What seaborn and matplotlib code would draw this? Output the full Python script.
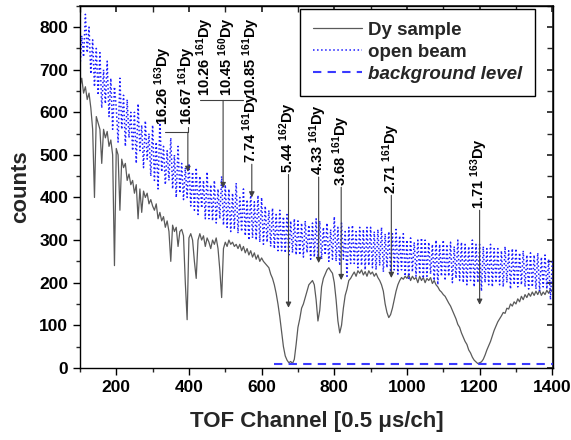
import numpy as np
import matplotlib
matplotlib.use("Agg")
import matplotlib.pyplot as plt
import seaborn as sns

# --- data (one value every 5 channels, 100..1400) ---
# open beam counts, 10 values per 50-channel block
open_beam = [
    700, 780, 730, 830, 740, 800, 690, 770, 660, 750,   # 100
    640, 740, 610, 700, 620, 720, 590, 680, 560, 660,   # 150
    610, 530, 680, 560, 640, 520, 630, 540, 600, 510,   # 200
    600, 480, 620, 510, 570, 470, 580, 490, 550, 450,   # 250
    570, 440, 530, 420, 580, 460, 520, 430, 510, 440,   # 300
    540, 420, 500, 400, 520, 410, 480, 395, 470, 400,   # 350
    480, 380, 460, 370, 470, 360, 450, 375, 440, 350,   # 400
    460, 350, 430, 345, 440, 340, 420, 350, 450, 335,   # 450
    430, 330, 420, 320, 410, 325, 434, 316, 400, 320,   # 500
    420, 310, 395, 300, 410, 305, 390, 300, 405, 295,   # 550
    400, 290, 380, 295, 370, 285, 375, 280, 360, 275,   # 600
    370, 275, 355, 270, 360, 265, 345, 270, 350, 265,   # 650
    345, 265, 340, 260, 345, 270, 335, 255, 340, 260,   # 700
    350, 260, 345, 255, 330, 265, 340, 250, 325, 255,   # 750
    355, 250, 330, 240, 340, 255, 320, 215, 330, 245,   # 800
    335, 245, 320, 235, 330, 240, 325, 230, 330, 240,   # 850
    330, 235, 320, 230, 325, 240, 330, 225, 315, 235,   # 900
    320, 225, 315, 230, 325, 220, 310, 230, 315, 215,   # 950
    300, 210, 305, 225, 295, 215, 300, 220, 305, 210,   # 1000
    300, 215, 295, 220, 290, 205, 300, 195, 290, 215,   # 1050
    300, 205, 290, 215, 295, 200, 285, 210, 300, 205,   # 1100
    295, 200, 290, 195, 285, 205, 300, 190, 290, 200,   # 1150
    290, 180, 285, 200, 280, 195, 290, 190, 280, 200,   # 1200
    280, 195, 275, 190, 285, 200, 275, 185, 280, 195,   # 1250
    280, 190, 270, 195, 275, 190, 265, 185, 270, 190,   # 1300
    265, 185, 270, 180, 260, 190, 265, 185, 255, 160, 250,  # 1350..1400
]

# Dy sample counts, same channels
dy_sample = [
    660, 680, 645, 660, 630, 645, 610, 560, 400, 590,   # 100
    575, 560, 480, 560, 540, 555, 520, 535, 500, 240,   # 150
    515, 500, 370, 490, 470, 480, 440, 455, 430, 440,   # 200
    410, 430, 350, 420, 365, 415, 400, 410, 385, 395,   # 250
    380, 370, 385, 350, 365, 345, 355, 330, 345, 320,   # 300
    250, 335, 320, 330, 285, 320, 325, 310, 200, 113,   # 350
    305, 315, 300, 250, 210, 300, 315, 300, 310, 285,   # 400
    305, 295, 280, 300, 290, 305, 280, 230, 165, 280,   # 450
    295, 285, 300, 290, 295, 285, 290, 280, 290, 275,   # 500
    285, 270, 280, 265, 275, 260, 270, 255, 265, 250,   # 550
    258, 250, 245, 240, 235, 220, 210, 195, 175, 150,   # 600
    120, 85, 50, 28, 18, 12, 15, 10, 20, 55,            # 650
    95, 115, 140, 150, 165, 180, 195, 200, 205, 195,    # 700
    160, 110, 135, 190, 210, 220, 230, 235, 228, 222,   # 750
    200, 160, 110, 82, 100, 140, 170, 185, 205, 210,    # 800
    218, 225, 215, 228, 222, 230, 218, 226, 215, 228,   # 850
    220, 225, 215, 222, 212, 205, 195, 180, 150, 130,   # 900
    118, 125, 140, 160, 180, 195, 205, 212, 208, 215,   # 950
    210, 218, 205, 215, 208, 212, 200, 215, 205, 212,   # 1000
    200, 210, 205, 212, 198, 205, 195, 190, 182, 178,   # 1050
    172, 168, 160, 152, 145, 135, 125, 115, 102, 95,    # 1100
    82, 72, 62, 55, 42, 35, 25, 18, 14, 10,             # 1150
    12, 14, 20, 30, 42, 52, 62, 75, 88, 98,             # 1200
    108, 115, 122, 130, 128, 140, 138, 150, 145, 155,   # 1250
    150, 162, 155, 168, 160, 172, 165, 175, 168, 178,   # 1300
    170, 180, 172, 182, 170, 178, 172, 182, 175, 185, 178,  # 1350..1400
]

channel = np.arange(100, 100 + 5 * len(open_beam), 5)
channel_dy = np.arange(100, 100 + 5 * len(dy_sample), 5)

background_x = [635, 1402]
background_y = [10, 10]

# resonance labels: (text, x, bottom of text, arrow tip)
single_labels = [
    ("5.44 $^{162}$Dy", 674, 458, 141),
    ("4.33 $^{161}$Dy", 757, 452, 246),
    ("3.68 $^{161}$Dy", 819, 428, 206),
    ("2.71 $^{161}$Dy", 957, 409, 211),
    ("1.71 $^{163}$Dy", 1200, 374, 148),
]

sns.set_theme(style="ticks")
plt.rcParams["font.family"] = ["Liberation Sans", "DejaVu Sans"]
plt.rcParams["mathtext.default"] = "regular"

fig = plt.figure(figsize=(5.71, 4.40), dpi=100)
ax = fig.add_axes([0.140, 0.164, 0.8285, 0.8228])

sns.lineplot(x=channel_dy, y=dy_sample, ax=ax, color="#5a5a5a", lw=0.9,
             label="Dy sample")
sns.lineplot(x=channel, y=open_beam, ax=ax, color="#1a1aff", lw=1.1,
             linestyle=":", label="open beam")
sns.lineplot(x=background_x, y=background_y, ax=ax, color="#3a3aff", lw=1.5,
             label="background level")
ax.lines[-1].set_dashes((4, 3))

ax.set_xlim(100, 1402)
ax.set_ylim(0, 850)
ax.set_xticks(range(200, 1401, 200))
ax.set_xticks(range(100, 1401, 100), minor=True)
ax.set_yticks(range(0, 801, 100))
ax.set_yticks(range(0, 851, 50), minor=True)
ax.tick_params(which="major", direction="out", length=5, width=1,
               labelsize=12.5, colors="black")
ax.tick_params(which="minor", direction="out", length=3, width=1)
for lab in ax.get_xticklabels() + ax.get_yticklabels():
    lab.set_fontweight("bold")

for sp in ax.spines.values():
    sp.set_visible(True)
    sp.set_color("black")
    sp.set_linewidth(1.0)

# inward ticks on top and right
top = ax.secondary_xaxis("top")
top.set_xticks(range(200, 1401, 200))
top.set_xticks(range(100, 1401, 100), minor=True)
top.tick_params(which="both", direction="in", length=4, labeltop=False)
right = ax.secondary_yaxis("right")
right.set_yticks(range(0, 801, 100))
right.set_yticks(range(0, 851, 50), minor=True)
right.tick_params(which="both", direction="in", length=4, labelright=False)

ax.set_xlabel("TOF Channel [0.5 μs/ch]", fontsize=16, fontweight="bold",
              labelpad=12)
ax.set_ylabel("counts", fontsize=16, fontweight="bold", labelpad=6)

# annotations
tc = "black"
ac = "#404040"
fs = 10.5
fw = "bold"
arrow = dict(arrowstyle="-|>", color=ac, lw=0.8, shrinkA=0, shrinkB=0,
             mutation_scale=8)

for txt, x, yb, tip in single_labels:
    ax.text(x, yb, txt, rotation=90, ha="center", va="bottom", fontsize=fs,
            fontweight=fw, color=tc)
    ax.annotate("", xy=(x, tip), xytext=(x, yb - 4), arrowprops=arrow)

# 16.26 / 16.67 group
ax.text(330, 570, "16.26 $^{163}$Dy", rotation=90, ha="center", va="bottom",
        fontsize=fs, fontweight=fw, color=tc)
ax.text(394, 570, "16.67 $^{161}$Dy", rotation=90, ha="center", va="bottom",
        fontsize=fs, fontweight=fw, color=tc)
ax.plot([334, 397], [553, 553], color=ac, lw=0.8)
ax.plot([397, 397], [553, 566], color=ac, lw=0.8)
ax.annotate("", xy=(397, 460), xytext=(397, 553), arrowprops=arrow)

# 10.26 / 10.45 / 10.85 group
ax.text(446, 638, "10.26 $^{161}$Dy", rotation=90, ha="center", va="bottom",
        fontsize=fs, fontweight=fw, color=tc)
ax.text(506, 638, "10.45 $^{160}$Dy", rotation=90, ha="center", va="bottom",
        fontsize=fs, fontweight=fw, color=tc)
ax.text(570, 638, "10.85 $^{161}$Dy", rotation=90, ha="center", va="bottom",
        fontsize=fs, fontweight=fw, color=tc)
ax.plot([430, 549], [628, 628], color=ac, lw=0.8)
ax.annotate("", xy=(494, 422), xytext=(494, 628), arrowprops=arrow)

# 7.74 below 10.85
ax.text(572, 482, "7.74 $^{161}$Dy", rotation=90, ha="center", va="bottom",
        fontsize=fs, fontweight=fw, color=tc)
ax.annotate("", xy=(573, 400), xytext=(573, 478), arrowprops=arrow)

leg = ax.legend(loc="upper right", bbox_to_anchor=(0.962, 0.992),
                borderaxespad=0, frameon=True, fancybox=False,
                edgecolor="black", framealpha=1, fontsize=13.5,
                handlelength=2.6, handletextpad=0.3,
                labelspacing=0.26, borderpad=0.7)
leg.get_frame().set_linewidth(1.0)
for t in leg.get_texts():
    t.set_fontweight("bold")
leg.get_texts()[2].set_fontstyle("italic")

fig.savefig("out.png", dpi=100)
